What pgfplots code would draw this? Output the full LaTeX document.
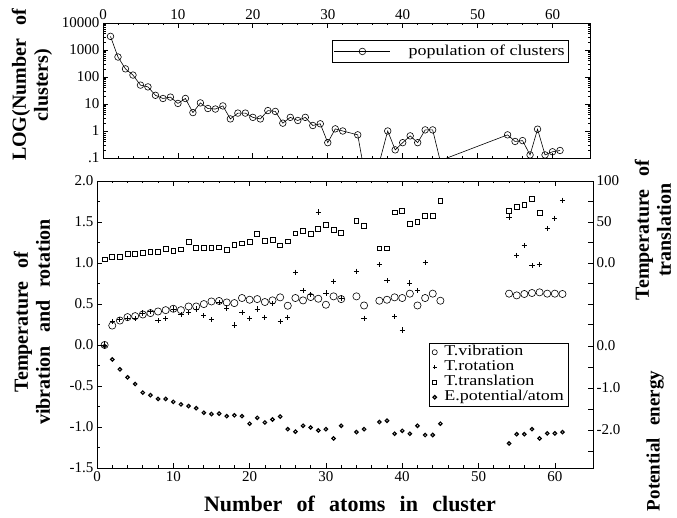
\documentclass[border=0pt]{standalone}
\usepackage{fontspec}
\setmainfont{Liberation Serif}
\newfontfamily\labfont{Liberation Serif}[WordSpace=2]
\newfontfamily\xlabfont{Liberation Serif}[WordSpace=2.6]
\newfontfamily\legfont{Liberation Serif}[FakeStretch=1.2]
\usepackage{pgfplots}
\pgfplotsset{compat=1.18}

\pgfplotsset{
  panel/.style={
    scale only axis, anchor=north west,
    xmin=0, xmax=65,
    axis line style={line width=0.8pt},
    every tick/.style={black, line width=0.7pt},
    tick align=inside,
    major tick length=5pt, minor tick length=2.5pt,
    tick label style={font=\fontsize{15}{15}\selectfont},
    /pgf/number format/assume math mode=true,
  },
  vib/.style={only marks, black, mark=o, mark size=3.6pt, line width=0.6pt},
  rot/.style={only marks, black, mark=+, mark size=2.6pt, line width=0.8pt},
  trans/.style={only marks, black, mark=square, mark size=2.4pt, line width=0.8pt},
  epot/.style={only marks, black, mark=o, mark size=1.7pt, line width=1.2pt},
}
\newcommand{\lab}{\labfont\bfseries\fontsize{20}{22}\selectfont}
\newcommand{\xlab}{\xlabfont\bfseries\fontsize{22}{24}\selectfont}

\begin{document}
\begin{tikzpicture}[x=1pt,y=1pt]
\useasboundingbox (0,0) rectangle (677,-518);

% population of clusters (log scale)
\begin{axis}[panel,
  at={(103pt,-23pt)}, width=487pt, height=135pt,
  ymode=log, ymin=0.1, ymax=10000,
  xtick={0,10,...,60}, minor x tick num=4,
  xticklabel pos=upper, xtick pos=both,
  ytick={0.1,1,10,100,1000,10000}, yticklabels={.1,1,10,100,1000,10000},
  minor ytick={0.2,0.3,...,0.9,2,3,...,9,20,30,...,90,200,300,...,900,2000,3000,...,9000},
  ytick pos=both,
  legend style={at={(0.957,0.874)}, anchor=north east, draw=black, line width=0.8pt,
    font=\legfont\fontsize{15}{15}\selectfont, inner xsep=2pt, inner ysep=3pt,
    /tikz/every odd column/.append style={column sep=16pt}},
  legend image code/.code={\draw[mark repeat=2,mark phase=2] plot coordinates {(0pt,0pt)(28pt,0pt)(56pt,0pt)};},
]
\addplot[black, line width=0.6pt, mark=o, mark size=3.3pt, mark options={fill=white}] coordinates {
(1,3200) (2,550) (3,200) (4,118) (5,50) (6,43) (7,21) (8,16) (9,18) (10,10.5)
(11,16) (12,4.8) (13,11) (14,6.8) (15,6.5) (16,8.5) (17,2.8) (18,4.6) (19,4.6) (20,3.2)
(21,2.8) (22,5.7) (23,5.3) (24,1.95) (25,3.2) (26,2.45) (27,3.2) (28,1.6) (29,1.85) (30,0.37)
(31,1.2) (32,1.0) (34,0.72) (35,0.02) (37,0.09) (38,1.0) (39,0.2) (40,0.37)
(41,0.66) (42,0.37) (43,1.1) (44,1.1) (45,0.08)
(54,0.72) (55,0.41) (56,0.44) (57,0.13) (58,1.17) (59,0.13) (60,0.17) (61,0.19)
};
\addlegendentry{population of clusters}
\end{axis}

% temperatures of vibration and rotation (left scale)
\begin{axis}[panel,
  at={(97pt,-181pt)}, width=496pt, height=287pt,
  ymin=-1.5, ymax=2.0, ytick={-1.5,-1,...,2},
  yticklabels={-1.5,-1.0,-0.5,0.0,0.5,1.0,1.5,2.0},
  minor y tick num=1, ytick pos=left,
  xtick={0,10,...,60}, minor x tick num=4, xtick pos=both, xticklabel pos=lower,
]
\addplot[vib] coordinates {
(1,0.0) (2,0.237) (3,0.298) (4,0.340) (5,0.352) (6,0.372) (7,0.389) (8,0.409) (9,0.425) (10,0.442)
(11,0.425) (12,0.470) (13,0.470) (14,0.499) (15,0.531) (16,0.537) (17,0.519) (18,0.511) (19,0.573) (20,0.552)
(21,0.560) (22,0.524) (23,0.544) (24,0.581) (25,0.479) (26,0.573) (27,0.544) (28,0.585) (29,0.564) (30,0.491)
(31,0.593) (32,0.560) (34,0.593) (35,0.482) (37,0.540) (38,0.552) (39,0.581) (40,0.573)
(41,0.626) (42,0.482) (43,0.573) (44,0.626) (45,0.540)
(54,0.626) (55,0.605) (56,0.622) (57,0.634) (58,0.642) (59,0.626) (60,0.626) (61,0.622)
};
\addplot[rot] coordinates {
(1,0.0) (2,0.286) (3,0.315) (4,0.327) (5,0.319) (6,0.39) (7,0.409) (8,0.298) (9,0.327) (10,0.438)
(11,0.368) (12,0.397) (13,0.438) (14,0.356) (15,0.307) (16,0.52) (17,0.450) (18,0.245) (19,0.397) (20,0.327)
(21,0.438) (22,0.340) (23,0.503) (24,0.286) (25,0.340) (26,0.887) (27,0.666) (28,0.613) (29,1.623) (30,0.634)
(31,0.777) (32,0.573) (34,0.900) (35,0.327) (37,0.982) (38,0.785) (39,0.347) (40,0.184)
(41,0.757) (42,0.663) (43,1.002)
(54,1.562) (55,1.092) (56,1.215) (57,0.969) (58,0.982) (59,1.420) (60,1.546) (61,1.767)
};
\end{axis}

% temperature of translation (right scale)
\begin{axis}[panel,
  at={(97pt,-181pt)}, width=496pt, height=287pt,
  ymin=-250, ymax=100, axis x line=none, axis y line*=right,
  ytick={-75,-50,...,100}, yticklabels={,,,0.0,,50,,100},
]
\addplot[trans] coordinates {
(1,4.3) (2,7.6) (3,7.6) (4,11.3) (5,11.3) (6,12.5) (7,13.3) (8,13.3) (9,17.4) (10,14.5)
(11,16.6) (12,25.5) (13,18.6) (14,18.6) (15,18.6) (16,19) (17,15.7) (18,21.8) (19,23.9) (20,25.5)
(21,35) (22,26.8) (23,28) (24,21.5) (25,26.4) (26,36.2) (27,39) (28,35) (29,42) (30,46)
(31,40) (32,37) (34,51.3) (35,45.2) (37,17.8) (38,17.8) (39,61.6) (40,63.6)
(41,47.2) (42,50.5) (43,57.4) (44,57.4) (45,75.8)
(54,63.6) (55,68.5) (56,70.6) (57,77.9) (58,60.7)
};
\end{axis}

% potential energy per atom (right scale)
\begin{axis}[panel,
  at={(97pt,-181pt)}, width=496pt, height=287pt,
  ymin=-2.905, ymax=3.93, axis x line=none, axis y line*=right,
  ytick={-2.5,-2,...,0}, yticklabels={,-2.0,,-1.0,,0.0},
  legend style={at={(0.952,0.436)}, anchor=north east, draw=black, line width=0.8pt,
    font=\legfont\fontsize{15}{13}\selectfont, inner xsep=3pt, inner ysep=2pt, row sep=1pt,
    nodes={inner ysep=0.5pt, text height=10pt, text depth=3pt},
    /tikz/every odd column/.append style={column sep=5pt}},
  legend cell align=left,
]
\addlegendimage{vib, mark size=2.6pt}
\addlegendentry{T.vibration}
\addlegendimage{rot, mark size=2.2pt}
\addlegendentry{T.rotation}
\addlegendimage{trans, mark size=2pt}
\addlegendentry{T.translation}
\addplot[epot] coordinates {
(1,0) (2,-0.32) (3,-0.555) (4,-0.745) (5,-0.905) (6,-1.11) (7,-1.17) (8,-1.26) (9,-1.26) (10,-1.33)
(11,-1.39) (12,-1.43) (13,-1.48) (14,-1.59) (15,-1.62) (16,-1.61) (17,-1.67) (18,-1.65) (19,-1.67) (20,-1.85)
(21,-1.71) (22,-1.82) (23,-1.75) (24,-1.68) (25,-1.98) (26,-2.04) (27,-1.90) (28,-1.94) (29,-2.01) (30,-1.98)
(31,-2.20) (32,-1.90) (34,-2.05) (35,-1.98) (37,-1.81) (38,-1.78) (39,-2.09) (40,-2.02)
(41,-2.09) (42,-1.90) (43,-2.12) (44,-2.12) (45,-1.85)
(54,-2.32) (55,-2.10) (56,-2.10) (57,-1.98) (58,-2.20) (59,-2.08) (60,-2.08) (61,-2.05)
};
\addlegendentry{E.potential/atom}
\end{axis}

\node[rotate=90, align=center, font=\lab] at (32,-85) {LOG(Number of\\clusters)};
\node[rotate=90, align=center, font=\lab] at (32,-322) {Temperature of\\vibration and rotation};
\node[rotate=90, align=center, font=\lab] at (653,-230) {Temperature of\\translation};
\node[rotate=90, font=\labfont\bfseries\fontsize{19}{21}\selectfont] at (655,-441) {Potential energy};
\node[font=\xlab] at (350,-504) {Number of atoms in cluster};
\end{tikzpicture}
\end{document}
